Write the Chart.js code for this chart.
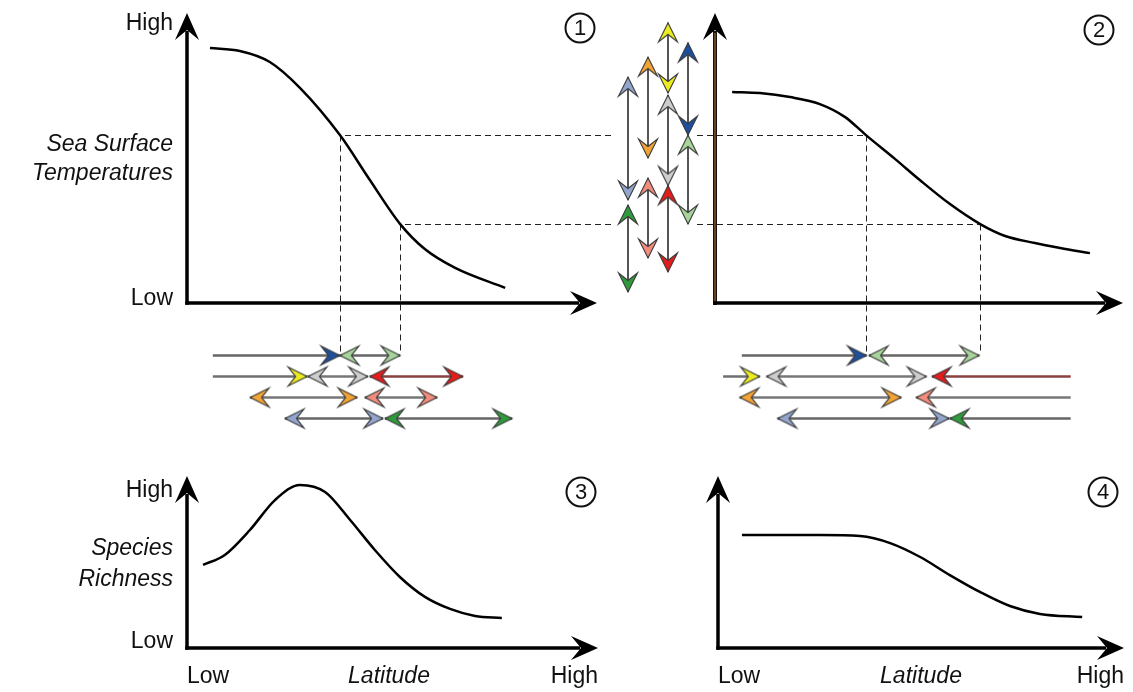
<!DOCTYPE html>
<html>
<head>
<meta charset="utf-8">
<script src="https://cdn.jsdelivr.net/npm/chart.js@4.4.1/dist/chart.umd.min.js"></script>
<style>
html, body { margin: 0; padding: 0; background: #fff; width: 1133px; height: 692px; overflow: hidden; }
canvas { position: absolute; left: 0; top: 0; }
</style>
</head>
<body>
<script>
const W = 1133, H = 692;
const FONT = '"Liberation Sans", Arial, sans-serif';

// species, one colour each
const speciesColors = ['#1d4f9e', '#a7d49a', '#ecec22', '#cdcdcd', '#e41c1c', '#f2a336', '#f28c7c', '#93a5cc', '#2f9a3c'];
const lineColors = ['#666', '#666', '#6f6f6f', '#777', '#8a4040', '#777', '#777', '#666', '#666'];

// thermal tolerance of each species (relative SST, 0 = low, 10 = high) and its column
const tolColumn = [4, 4, 3, 3, 3, 2, 2, 1, 1];
const tolLow  = [5.79, 2.72, 7.24, 4.05, 1.07, 5.0, 1.55, 3.55, 0.38];
const tolHigh = [8.97, 5.79, 9.66, 7.17, 4.05, 8.48, 4.31, 7.79, 3.38];

// latitudinal ranges (0 = low, 100 = high latitude); row of each arrow
const rangeRow = [1, 1, 2, 2, 2, 3, 3, 4, 4];
const lat1Low  = [6.3, 37.3, 6.3, 29.5, 44.6, 15.4, 43.4, 23.9, 48.3];
const lat1High = [37.3, 52.0, 29.3, 44.1, 67.3, 41.5, 61.0, 47.8, 79.3];
const lat1LowHead  = [false, true, false, true, true, true, true, true, true];
const lat1HighHead = [true, true, true, true, true, true, true, true, true];
const lat2Low  = [6.6, 37.9, 2.0, 12.7, 53.4, 6.1, 49.5, 15.4, 57.8];
const lat2High = [37.3, 65.0, 11.0, 52.0, 87.5, 45.8, 87.5, 57.6, 87.5];
const lat2LowHead  = [false, true, false, true, true, true, true, true, true];
const lat2HighHead = [true, true, true, true, false, true, false, true, false];

// curves
const sst1Lat = [5.6, 12.9, 20.2, 27.6, 37.3, 44.6, 52.0, 58.0, 65.4, 77.6];
const sst1Val = [8.79, 8.69, 8.31, 7.41, 5.79, 4.24, 2.72, 1.86, 1.21, 0.52];
const sst2Lat = [4.2, 11.0, 18.4, 25.7, 31.9, 37.0, 44.1, 50.2, 57.6, 65.0, 71.1, 78.4, 84.6, 91.9];
const sst2Val = [7.28, 7.24, 7.10, 6.86, 6.41, 5.79, 4.97, 4.24, 3.41, 2.72, 2.31, 2.07, 1.90, 1.72];
const rich3Lat = [3.9, 9.2, 15.3, 21.4, 27.5, 33.6, 39.7, 45.7, 51.8, 57.9, 64.0, 70.1, 76.6];
const rich3Val = [4.83, 5.41, 6.86, 8.60, 9.48, 9.07, 7.44, 5.70, 4.13, 2.97, 2.27, 1.86, 1.74];
const rich4Lat = [5.9, 15.3, 25.1, 35.0, 42.4, 49.8, 57.1, 64.5, 71.9, 79.3, 89.7];
const rich4Val = [6.57, 6.57, 6.57, 6.51, 6.10, 5.29, 4.24, 3.26, 2.44, 1.98, 1.80];

// dashed guides: SST thresholds and where each curve crosses them
const sstThresholds = [5.79, 2.72];
const cross1 = [37.3, 52.0];
const cross2 = [37.0, 65.0];

function chevron(color) {
  const c = document.createElement('canvas');
  c.width = 44; c.height = 44;
  const g = c.getContext('2d');
  g.beginPath();
  g.moveTo(22, 22);
  g.lineTo(31.5, 41);
  g.lineTo(22, 33.5);
  g.lineTo(12.5, 41);
  g.closePath();
  g.fillStyle = color;
  g.fill();
  g.lineWidth = 1.1;
  g.strokeStyle = '#3a3a3a';
  g.stroke();
  return c;
}
const heads = speciesColors.map(chevron);

function curve(xs, ys) {
  return {
    data: xs.map((x, i) => ({ x, y: ys[i] })),
    borderColor: '#000', borderWidth: 2.5, pointRadius: 0,
    cubicInterpolationMode: 'monotone', clip: false
  };
}

function rangeSet(i, a, b, fixed, headA, headB, vertical) {
  return {
    data: vertical ? [{ x: fixed, y: a }, { x: fixed, y: b }] : [{ x: a, y: fixed }, { x: b, y: fixed }],
    borderColor: vertical ? '#555' : lineColors[i], borderWidth: vertical ? 2 : 2.5,
    pointStyle: heads[i],
    pointRotation: vertical ? [180, 0] : [270, 90],
    pointRadius: [headA ? 9 : 0, headB ? 9 : 0],
    clip: false
  };
}

function arrowHead(ctx, x, y, angle) {
  ctx.save();
  ctx.translate(x, y);
  ctx.rotate(angle);
  ctx.beginPath();
  ctx.moveTo(0, 0);
  ctx.lineTo(-27, -12);
  ctx.lineTo(-17, 0);
  ctx.lineTo(-27, 12);
  ctx.closePath();
  ctx.fillStyle = '#000';
  ctx.fill();
  ctx.restore();
}

function panelPlugin(p) {
  return {
    id: 'panel',
    beforeDatasetsDraw(chart) {
      if (!p.cross) return;
      const ctx = chart.ctx, xs = chart.scales.x, ys = chart.scales.y;
      ctx.save();
      ctx.strokeStyle = '#222';
      ctx.lineWidth = 1;
      ctx.setLineDash([6, 4]);
      sstThresholds.forEach((t, k) => {
        const px = Math.round(xs.getPixelForValue(p.cross[k])) + 0.5;
        const py = Math.round(ys.getPixelForValue(t)) + 0.5;
        ctx.beginPath();
        ctx.moveTo(p.guideX, py); ctx.lineTo(px, py);
        ctx.stroke();
        ctx.beginPath();
        ctx.moveTo(px, py); ctx.lineTo(px, 352);
        ctx.stroke();
      });
      ctx.restore();
    },
    afterDraw(chart) {
      const ctx = chart.ctx, a = chart.chartArea;
      ctx.save();
      // axes
      ctx.lineCap = 'butt';
      if (p.brown) {
        ctx.strokeStyle = '#1a120c'; ctx.lineWidth = 4;
        ctx.beginPath(); ctx.moveTo(a.left, a.bottom + 2); ctx.lineTo(a.left, a.top + 18); ctx.stroke();
        ctx.strokeStyle = '#7a4f2a'; ctx.lineWidth = 1.6;
        ctx.beginPath(); ctx.moveTo(a.left, a.bottom - 2); ctx.lineTo(a.left, a.top + 20); ctx.stroke();
      } else {
        ctx.strokeStyle = '#000'; ctx.lineWidth = 3.5;
        ctx.beginPath(); ctx.moveTo(a.left, a.bottom + 1.75); ctx.lineTo(a.left, a.top + 18); ctx.stroke();
      }
      ctx.strokeStyle = '#000'; ctx.lineWidth = 3.5;
      ctx.beginPath(); ctx.moveTo(a.left - 1.75, a.bottom); ctx.lineTo(a.right - 18, a.bottom); ctx.stroke();
      arrowHead(ctx, a.left, a.top, -Math.PI / 2);
      arrowHead(ctx, a.right, a.bottom, 0);

      // labels
      ctx.fillStyle = '#111';
      ctx.textBaseline = 'alphabetic';
      ctx.font = '23px ' + FONT;
      ctx.textAlign = 'right';
      if (p.yHigh) ctx.fillText('High', a.left - 14, p.yHigh);
      if (p.yLow) ctx.fillText('Low', a.left - 14, p.yLow);
      if (p.title) {
        ctx.font = 'italic 23px ' + FONT;
        p.title.forEach((t, k) => ctx.fillText(t, a.left - 14, p.titleY[k]));
      }
      if (p.xLabels) {
        ctx.font = '23px ' + FONT;
        ctx.textAlign = 'left';
        ctx.fillText('Low', a.left, p.xLabelY);
        ctx.textAlign = 'right';
        ctx.fillText('High', a.right, p.xLabelY);
        ctx.textAlign = 'center';
        ctx.font = 'italic 23px ' + FONT;
        ctx.fillText('Latitude', p.latX, p.xLabelY);
      }
      // circled panel number
      ctx.beginPath();
      ctx.arc(p.num[1], p.num[2], 14.5, 0, Math.PI * 2);
      ctx.lineWidth = 2; ctx.strokeStyle = '#111'; ctx.stroke();
      ctx.font = '22px ' + FONT;
      ctx.textAlign = 'center';
      ctx.textBaseline = 'middle';
      ctx.fillText(p.num[0], p.num[1], p.num[2] + 1);
      ctx.restore();
    }
  };
}

function makeChart(area, xr, yr, datasets, plugins, yReverse) {
  const c = document.createElement('canvas');
  c.width = W; c.height = H;
  document.body.appendChild(c);
  return new Chart(c.getContext('2d'), {
    type: 'line',
    data: { datasets },
    options: {
      responsive: false,
      animation: false,
      events: [],
      layout: { padding: { left: area[0], top: area[1], right: W - area[2], bottom: H - area[3] } },
      scales: {
        x: { type: 'linear', display: false, min: xr[0], max: xr[1] },
        y: { type: 'linear', display: false, min: yr[0], max: yr[1], reverse: !!yReverse }
      },
      plugins: { legend: { display: false }, tooltip: { enabled: false } }
    },
    plugins: plugins || []
  });
}

// panel 1: present SST vs latitude
makeChart([187, 13, 597, 303], [0, 100], [0, 10], [curve(sst1Lat, sst1Val)], [panelPlugin({
  cross: cross1, guideX: 611, yHigh: 30, yLow: 305,
  title: ['Sea Surface', 'Temperatures'], titleY: [151, 180], num: ['1', 580, 28]
})]);

// panel 2: warmer SST vs latitude
makeChart([715, 13, 1123, 303], [0, 100], [0, 10], [curve(sst2Lat, sst2Val)], [panelPlugin({
  cross: cross2, guideX: 697, brown: true, num: ['2', 1099, 30]
})]);

// thermal tolerance arrows between the panels
makeChart([618, 13, 698, 303], [0.5, 4.5], [0, 10],
  speciesColors.map((c, i) => rangeSet(i, tolLow[i], tolHigh[i], tolColumn[i], true, true, true)));

// latitudinal ranges below panel 1 and panel 2
makeChart([187, 345, 597, 429], [0, 100], [0.5, 4.5],
  speciesColors.map((c, i) => rangeSet(i, lat1Low[i], lat1High[i], rangeRow[i], lat1LowHead[i], lat1HighHead[i], false)), [], true);
makeChart([715, 345, 1123, 429], [0, 100], [0.5, 4.5],
  speciesColors.map((c, i) => rangeSet(i, lat2Low[i], lat2High[i], rangeRow[i], lat2LowHead[i], lat2HighHead[i], false)), [], true);

// panel 3: species richness now
makeChart([187, 476, 598, 648], [0, 100], [0, 10], [curve(rich3Lat, rich3Val)], [panelPlugin({
  yHigh: 497, yLow: 648, title: ['Species', 'Richness'], titleY: [555, 586],
  xLabels: true, xLabelY: 683, latX: 389, num: ['3', 581, 492]
})]);

// panel 4: species richness after warming
makeChart([718, 476, 1124, 648], [0, 100], [0, 10], [curve(rich4Lat, rich4Val)], [panelPlugin({
  xLabels: true, xLabelY: 683, latX: 921, num: ['4', 1103, 492]
})]);
</script>
</body>
</html>
